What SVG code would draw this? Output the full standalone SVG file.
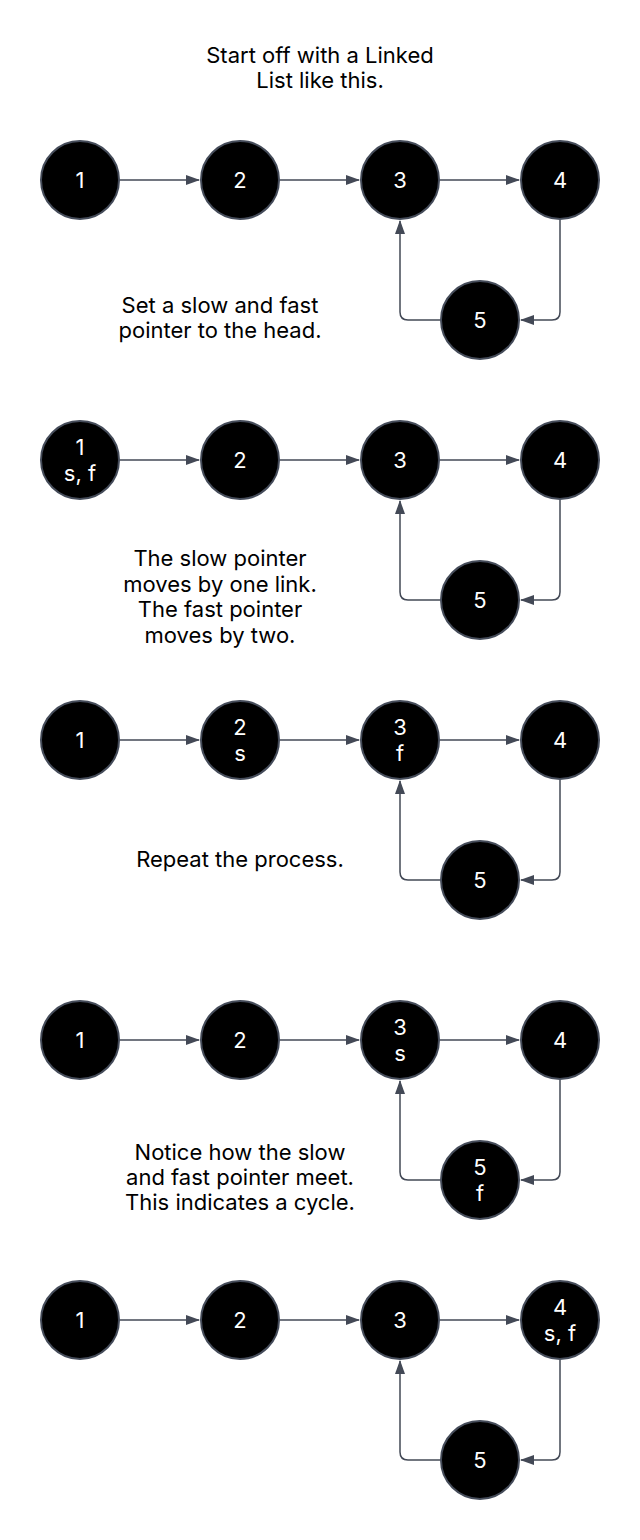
<svg xmlns="http://www.w3.org/2000/svg" width="640" height="1540" viewBox="0 0 640 1540">
<style>
  .node { fill: #000000; stroke: #454c5a; stroke-width: 2; }
  .lbl { font-family: Inter, "Liberation Sans", sans-serif; font-size: 22px; fill: #ffffff; text-anchor: middle; }
  .cap { font-family: Inter, "Liberation Sans", sans-serif; font-size: 22px; fill: #000000; text-anchor: middle; }
  .edge { fill: none; stroke: #434956; stroke-width: 1.5; marker-end: url(#arr); }
</style>
<defs>
  <marker id="arr" markerUnits="userSpaceOnUse" markerWidth="14" markerHeight="10" refX="13" refY="5" orient="auto">
    <path d="M0,0 L14,5 L0,10 z" fill="#434956"/>
  </marker>
</defs>
<rect width="640" height="1540" fill="#ffffff"/>

<g id="captions">
  <text class="cap" x="320" y="63">Start off with a Linked</text>
  <text class="cap" x="320" y="88">List like this.</text>
  <text class="cap" x="220" y="313">Set a slow and fast</text>
  <text class="cap" x="220" y="338">pointer to the head.</text>
  <text class="cap" x="220" y="566">The slow pointer</text>
  <text class="cap" x="220" y="591.5">moves by one link.</text>
  <text class="cap" x="220" y="617">The fast pointer</text>
  <text class="cap" x="220" y="642.5">moves by two.</text>
  <text class="cap" x="240" y="867">Repeat the process.</text>
  <text class="cap" x="240" y="1160">Notice how the slow</text>
  <text class="cap" x="240" y="1185">and fast pointer meet.</text>
  <text class="cap" x="240" y="1210">This indicates a cycle.</text>
</g>

<g id="connectors">
  <!-- row 1 -->
  <path class="edge" d="M120,180 H199"/>
  <path class="edge" d="M280,180 H359"/>
  <path class="edge" d="M440,180 H519"/>
  <path class="edge" d="M560,220 V312 Q560,320 552,320 H521"/>
  <path class="edge" d="M440,320 H408 Q400,320 400,312 V221"/>
  <!-- row 2 -->
  <path class="edge" d="M120,460 H199"/>
  <path class="edge" d="M280,460 H359"/>
  <path class="edge" d="M440,460 H519"/>
  <path class="edge" d="M560,500 V592 Q560,600 552,600 H521"/>
  <path class="edge" d="M440,600 H408 Q400,600 400,592 V501"/>
  <!-- row 3 -->
  <path class="edge" d="M120,740 H199"/>
  <path class="edge" d="M280,740 H359"/>
  <path class="edge" d="M440,740 H519"/>
  <path class="edge" d="M560,780 V872 Q560,880 552,880 H521"/>
  <path class="edge" d="M440,880 H408 Q400,880 400,872 V781"/>
  <!-- row 4 -->
  <path class="edge" d="M120,1040 H199"/>
  <path class="edge" d="M280,1040 H359"/>
  <path class="edge" d="M440,1040 H519"/>
  <path class="edge" d="M560,1080 V1172 Q560,1180 552,1180 H521"/>
  <path class="edge" d="M440,1180 H408 Q400,1180 400,1172 V1081"/>
  <!-- row 5 -->
  <path class="edge" d="M120,1320 H199"/>
  <path class="edge" d="M280,1320 H359"/>
  <path class="edge" d="M440,1320 H519"/>
  <path class="edge" d="M560,1360 V1452 Q560,1460 552,1460 H521"/>
  <path class="edge" d="M440,1460 H408 Q400,1460 400,1452 V1361"/>
</g>

<!-- row 1 -->
<g id="r1n1"><circle class="node" cx="80" cy="180" r="39"/><text class="lbl" x="80" y="188">1</text></g>
<g id="r1n2"><circle class="node" cx="240" cy="180" r="39"/><text class="lbl" x="240" y="188">2</text></g>
<g id="r1n3"><circle class="node" cx="400" cy="180" r="39"/><text class="lbl" x="400" y="188">3</text></g>
<g id="r1n4"><circle class="node" cx="560" cy="180" r="39"/><text class="lbl" x="560" y="188">4</text></g>
<g id="r1n5"><circle class="node" cx="480" cy="320" r="39"/><text class="lbl" x="480" y="328">5</text></g>

<!-- row 2 -->
<g id="r2n1"><circle class="node" cx="80" cy="460" r="39"/><text class="lbl" x="80" y="455">1</text><text class="lbl" x="80" y="481">s, f</text></g>
<g id="r2n2"><circle class="node" cx="240" cy="460" r="39"/><text class="lbl" x="240" y="468">2</text></g>
<g id="r2n3"><circle class="node" cx="400" cy="460" r="39"/><text class="lbl" x="400" y="468">3</text></g>
<g id="r2n4"><circle class="node" cx="560" cy="460" r="39"/><text class="lbl" x="560" y="468">4</text></g>
<g id="r2n5"><circle class="node" cx="480" cy="600" r="39"/><text class="lbl" x="480" y="608">5</text></g>

<!-- row 3 -->
<g id="r3n1"><circle class="node" cx="80" cy="740" r="39"/><text class="lbl" x="80" y="748">1</text></g>
<g id="r3n2"><circle class="node" cx="240" cy="740" r="39"/><text class="lbl" x="240" y="735">2</text><text class="lbl" x="240" y="761">s</text></g>
<g id="r3n3"><circle class="node" cx="400" cy="740" r="39"/><text class="lbl" x="400" y="735">3</text><text class="lbl" x="400" y="761">f</text></g>
<g id="r3n4"><circle class="node" cx="560" cy="740" r="39"/><text class="lbl" x="560" y="748">4</text></g>
<g id="r3n5"><circle class="node" cx="480" cy="880" r="39"/><text class="lbl" x="480" y="888">5</text></g>

<!-- row 4 -->
<g id="r4n1"><circle class="node" cx="80" cy="1040" r="39"/><text class="lbl" x="80" y="1048">1</text></g>
<g id="r4n2"><circle class="node" cx="240" cy="1040" r="39"/><text class="lbl" x="240" y="1048">2</text></g>
<g id="r4n3"><circle class="node" cx="400" cy="1040" r="39"/><text class="lbl" x="400" y="1035">3</text><text class="lbl" x="400" y="1061">s</text></g>
<g id="r4n4"><circle class="node" cx="560" cy="1040" r="39"/><text class="lbl" x="560" y="1048">4</text></g>
<g id="r4n5"><circle class="node" cx="480" cy="1180" r="39"/><text class="lbl" x="480" y="1175">5</text><text class="lbl" x="480" y="1201">f</text></g>

<!-- row 5 -->
<g id="r5n1"><circle class="node" cx="80" cy="1320" r="39"/><text class="lbl" x="80" y="1328">1</text></g>
<g id="r5n2"><circle class="node" cx="240" cy="1320" r="39"/><text class="lbl" x="240" y="1328">2</text></g>
<g id="r5n3"><circle class="node" cx="400" cy="1320" r="39"/><text class="lbl" x="400" y="1328">3</text></g>
<g id="r5n4"><circle class="node" cx="560" cy="1320" r="39"/><text class="lbl" x="560" y="1315">4</text><text class="lbl" x="560" y="1341">s, f</text></g>
<g id="r5n5"><circle class="node" cx="480" cy="1460" r="39"/><text class="lbl" x="480" y="1468">5</text></g>
</svg>
